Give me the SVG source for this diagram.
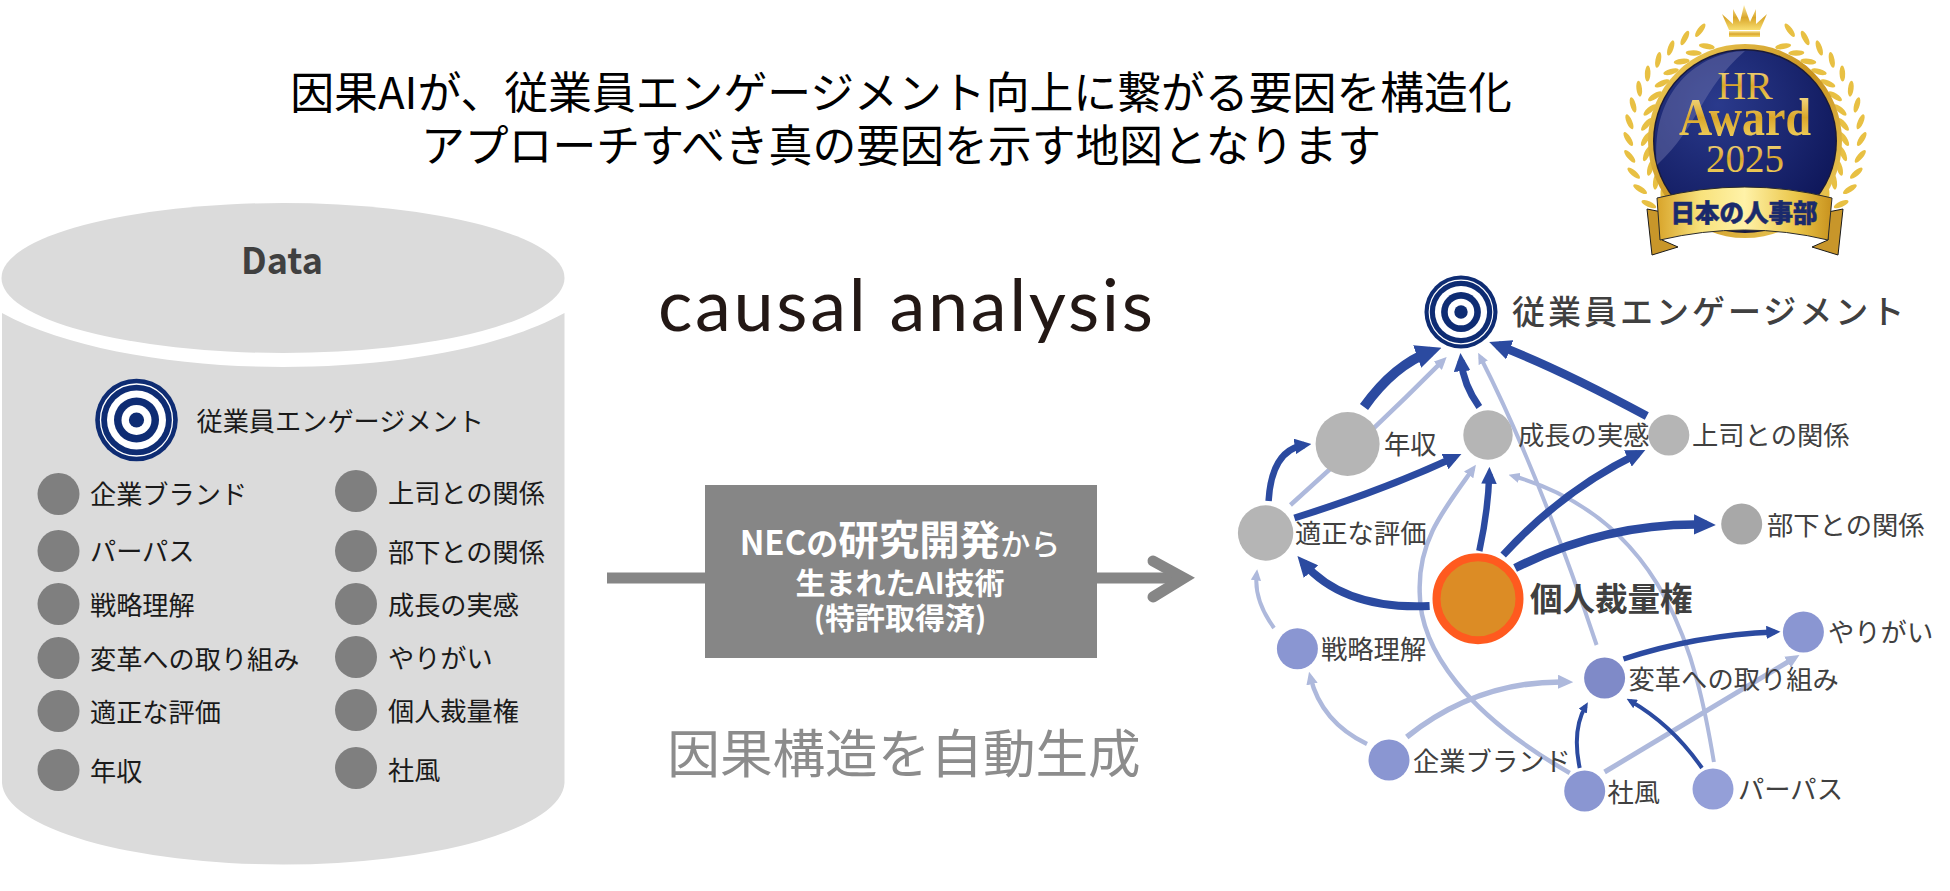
<svg xmlns="http://www.w3.org/2000/svg" width="1950" height="891" viewBox="0 0 1950 891">
<style>
text{font-family:"Noto Sans CJK JP","Noto Sans",sans-serif}
.d{fill:none;stroke:#2B4AA0;marker-end:url(#ad)}
.l{fill:none;stroke:#AEB9DC;marker-end:url(#al)}
.item{font-size:26.2px;fill:#1a1a1a}
.dot{fill:#7F7F7F}
.lab{font-size:26.3px;fill:#404040}
.g{fill:#B5B5B5}
.p{fill:#8A96D2}
.gold{fill:url(#gold)}
.bt{font-family:"Liberation Serif",serif;fill:url(#gold);text-anchor:middle}
.w{fill:#fff;font-weight:700;text-anchor:middle}
</style>
<defs>
<marker id="ad" viewBox="0 0 26 24" markerWidth="2.6" markerHeight="2.4" refX="15" refY="12" orient="auto"><path d="M0,0L26,12L0,24Z" fill="#2B4AA0"/></marker>
<marker id="al" viewBox="0 0 26 24" markerWidth="2.8" markerHeight="2.6" refX="15" refY="12" orient="auto"><path d="M0,0L26,12L0,24Z" fill="#AEB9DC"/></marker>
<linearGradient id="gold" x1="0" y1="0" x2="0" y2="1"><stop offset="0" stop-color="#FBE9A0"/><stop offset=".5" stop-color="#D9A62A"/><stop offset="1" stop-color="#F8DE70"/></linearGradient>
<linearGradient id="ring" x1="0" y1="0" x2="1" y2="1"><stop offset="0" stop-color="#F5D560"/><stop offset=".5" stop-color="#C8921E"/><stop offset="1" stop-color="#F3D665"/></linearGradient>
<radialGradient id="navy" cx=".35" cy=".3" r=".8"><stop offset="0" stop-color="#2A3A8C"/><stop offset="1" stop-color="#0D1557"/></radialGradient>
<linearGradient id="band" x1="0" y1="0" x2="1" y2="0"><stop offset="0" stop-color="#D8A42A"/><stop offset=".25" stop-color="#F8E27C"/><stop offset=".5" stop-color="#FFF2A8"/><stop offset=".8" stop-color="#EAC548"/><stop offset="1" stop-color="#C8921E"/></linearGradient>
<g id="target"><circle r="41.3" fill="#0E2C73"/><circle r="36" fill="none" stroke="#fff" stroke-width="1.3"/><circle r="29.5" fill="#fff"/><circle r="22.5" fill="#0E2C73"/><circle r="15" fill="#fff"/><circle r="7.6" fill="#0E2C73"/></g>
<g id="pair" fill="#E8C043"><ellipse cx="1745" cy="25" rx="8" ry="2.8" transform="rotate(-32 1738 25)"/><ellipse cx="1745" cy="35" rx="8" ry="2.8" transform="rotate(32 1738 35)"/></g>
<g id="laurel"><use href="#pair" transform="rotate(-22 1745 138)"/><use href="#pair" transform="rotate(-30.5 1745 138)"/><use href="#pair" transform="rotate(-39 1745 138)"/><use href="#pair" transform="rotate(-47.5 1745 138)"/><use href="#pair" transform="rotate(-56 1745 138)"/><use href="#pair" transform="rotate(-64.5 1745 138)"/><use href="#pair" transform="rotate(-73 1745 138)"/><use href="#pair" transform="rotate(-81.5 1745 138)"/><use href="#pair" transform="rotate(-90 1745 138)"/><use href="#pair" transform="rotate(-98.5 1745 138)"/><use href="#pair" transform="rotate(-107 1745 138)"/><use href="#pair" transform="rotate(-115.5 1745 138)"/><use href="#pair" transform="rotate(-124 1745 138)"/></g>
</defs>
<rect width="1950" height="891" fill="#fff"/>

<g id="title" font-size="43.85" fill="#000" text-anchor="middle">
<text x="901" y="109">因果AIが、従業員エンゲージメント向上に繋がる要因を構造化</text>
<text x="901" y="162">アプローチすべき真の要因を示す地図となります</text>
</g>

<g id="data-cylinder">
<ellipse cx="283" cy="278" rx="281.5" ry="75" fill="#DBDBDB"/>
<path d="M2,313C70,350 180,367 283,367C388,367 497,350 564.5,313L564.5,783A281.3,83 0 0 1 2,783Z" fill="#DBDBDB"/>
<text x="282" y="274" font-size="36" font-weight="700" fill="#404040" text-anchor="middle">Data</text>
</g>
<g id="data-engagement"><use href="#target" x="136.5" y="420"/><text x="196.5" y="431" class="item">従業員エンゲージメント</text></g>
<g id="data-items">
<circle class="dot" cx="58.5" cy="494" r="21"/><text class="item" x="90" y="504">企業ブランド</text>
<circle class="dot" cx="58.5" cy="551" r="21"/><text class="item" x="90" y="561">パーパス</text>
<circle class="dot" cx="58.5" cy="604" r="21"/><text class="item" x="90" y="615">戦略理解</text>
<circle class="dot" cx="58.5" cy="658" r="21"/><text class="item" x="90" y="669">変革への取り組み</text>
<circle class="dot" cx="58.5" cy="711" r="21"/><text class="item" x="90" y="722">適正な評価</text>
<circle class="dot" cx="58.5" cy="770" r="21"/><text class="item" x="90" y="781">年収</text>
<circle class="dot" cx="356" cy="491" r="21"/><text class="item" x="388" y="503">上司との関係</text>
<circle class="dot" cx="356" cy="551" r="21"/><text class="item" x="388" y="562">部下との関係</text>
<circle class="dot" cx="356" cy="604" r="21"/><text class="item" x="388" y="615">成長の実感</text>
<circle class="dot" cx="356" cy="657" r="21"/><text class="item" x="388" y="668">やりがい</text>
<circle class="dot" cx="356" cy="710" r="21"/><text class="item" x="388" y="721">個人裁量権</text>
<circle class="dot" cx="356" cy="768" r="21"/><text class="item" x="388" y="780">社風</text>
</g>

<text id="causal" x="658" y="331" font-size="72" fill="#231815" textLength="495" lengthAdjust="spacing" style="font-family:Lato,sans-serif">causal analysis</text>

<g id="tech-flow">
<line x1="607" y1="578" x2="1180" y2="578" stroke="#868686" stroke-width="11"/>
<path d="M1153,561L1184,578L1153,597" fill="none" stroke="#868686" stroke-width="11" stroke-linecap="round" stroke-linejoin="miter"/>
<rect x="705" y="485" width="392" height="173" fill="#868686"/>
<text x="900" y="555" class="w" font-size="33">NEC<tspan font-size="32">の</tspan><tspan font-size="40.5">研究開発</tspan><tspan font-size="30" font-weight="500">から</tspan></text>
<text x="900" y="594" class="w" font-size="30">生まれたAI技術</text>
<text x="900" y="629" class="w" font-size="30">(特許取得済)</text>
</g>

<text id="auto" x="904" y="773" font-size="52.6" fill="#8C8C8C" text-anchor="middle">因果構造を自動生成</text>

<g id="connectors" transform="translate(1200 0) scale(.994 1) translate(-1200 0)">
<path class="l" stroke-width="4.5" d="M1291,505Q1370,435 1444.4,360.7"/>
<path class="l" stroke-width="4" d="M1599,645Q1540,470 1482,357"/>
<path class="l" stroke-width="4.5" d="M1572,773C1470,715 1420,650 1421,590C1420,540 1445,510 1474.5,469"/>
<path class="l" stroke-width="4" d="M1717,762C1700,660 1670,520 1515,476"/>
<path class="l" stroke-width="4" d="M1274.5,628Q1254,600 1257,574"/>
<path class="l" stroke-width="4.5" d="M1368,744Q1322,722 1311,677"/>
<path class="l" stroke-width="5.5" d="M1408,737Q1480,680 1569,682"/>
<path class="l" stroke-width="5" d="M1607,772Q1720,705 1798,658"/>
<path class="d" stroke-width="10" d="M1365,407Q1395,365 1432.6,351.4"/>
<path class="d" stroke-width="7" d="M1481,407Q1465,385 1462.7,360.7"/>
<path class="d" stroke-width="8.5" d="M1649.5,416Q1560,368 1499.7,345.3"/>
<path class="d" stroke-width="6.5" d="M1269,501Q1272,450 1305,445"/>
<path class="d" stroke-width="7" d="M1295,518Q1385,490 1456,457.2"/>
<path class="d" stroke-width="6.5" d="M1481,551Q1490,510 1491,474"/>
<path class="d" stroke-width="7.5" d="M1505,555Q1565,490 1640.6,453.6"/>
<path class="d" stroke-width="8.5" d="M1517,568Q1610,522 1709.6,524.7"/>
<path class="d" stroke-width="8" d="M1431,606Q1345,610 1303.8,562.6"/>
<path class="d" stroke-width="4" d="M1582,768Q1574,730 1588,706"/>
<path class="d" stroke-width="4" d="M1705,768Q1675,725 1633,701"/>
<path class="d" stroke-width="5.5" d="M1626,659Q1700,635 1778,632"/>
</g>

<g id="n-engagement"><use href="#target" transform="translate(1461 312) scale(.884)"/><text x="1512" y="324" font-size="33" fill="#404040" letter-spacing="3" font-weight="500">従業員エンゲージメント</text></g>
<g id="n-nenshu"><circle class="g" cx="1347.6" cy="444" r="32"/><text class="lab" x="1384" y="454" font-size="27">年収</text></g>
<g id="n-seicho"><circle class="g" cx="1488" cy="435" r="24.7"/><text class="lab" x="1518" y="445">成長の実感</text></g>
<g id="n-joshi"><circle class="g" cx="1668.8" cy="435" r="20.5"/><text class="lab" x="1692" y="445">上司との関係</text></g>
<g id="n-tekisei"><circle class="g" cx="1265.6" cy="533" r="27.7"/><text class="lab" x="1295" y="543">適正な評価</text></g>
<g id="n-buka"><circle cx="1741.7" cy="524" r="20.5" fill="#A8A8A8"/><text class="lab" x="1767" y="535">部下との関係</text></g>
<g id="n-kojin"><circle cx="1478" cy="598.7" r="41.5" fill="#DC8C25" stroke="#FF5A1F" stroke-width="8"/><text x="1530" y="611" font-size="32.5" font-weight="700" fill="#404040">個人裁量権</text></g>
<g id="n-senryaku"><circle class="p" cx="1297.4" cy="648.7" r="20.5"/><text class="lab" x="1321" y="659">戦略理解</text></g>
<g id="n-henkaku"><circle cx="1604.6" cy="678" r="20.5" fill="#7F8AC8"/><text class="lab" x="1628.5" y="689">変革への取り組み</text></g>
<g id="n-yarigai"><circle class="p" cx="1803.4" cy="632" r="20.5"/><text class="lab" x="1828" y="642">やりがい</text></g>
<g id="n-kigyo"><circle class="p" cx="1389" cy="760" r="20.5"/><text class="lab" x="1413" y="771">企業ブランド</text></g>
<g id="n-shafu"><circle class="p" cx="1584.7" cy="791" r="20.5"/><text class="lab" x="1607.5" y="802">社風</text></g>
<g id="n-purpose"><circle cx="1713" cy="789" r="20.5" fill="#949FD8"/><text class="lab" x="1738" y="799">パーパス</text></g>

<g id="badge">
<use href="#laurel"/>
<use href="#laurel" transform="translate(3490 0) scale(-1 1)"/>
<path class="gold" d="M1729,30L1722,14L1733,24L1733,9L1740,22L1744,5L1750,22L1756,9L1756,24L1767,14L1760,30Z"/>
<rect class="gold" x="1729" y="31" width="31" height="6"/>
<circle cx="1745" cy="141" r="97" fill="url(#ring)"/>
<circle cx="1745" cy="141" r="92" fill="#1A1A3A"/>
<circle cx="1745" cy="141" r="90.5" fill="url(#navy)"/>
<path d="M1657,165C1650,90 1700,52 1745,51C1700,90 1700,125 1657,165Z" fill="#7378B0" fill-opacity=".45"/>
<text class="bt" x="1745" y="99" font-size="40">HR</text>
<text class="bt" x="1745" y="135" font-size="52" font-weight="700" textLength="132" lengthAdjust="spacingAndGlyphs">Award</text>
<text class="bt" x="1745" y="172" font-size="39">2025</text>
<path d="M1647,209L1662,212L1662,240L1678,247L1652,255Z" fill="#C8962A" stroke="#1a1a1a" stroke-width="1"/>
<path d="M1843,209L1828,212L1828,240L1812,247L1838,255Z" fill="#C8962A" stroke="#1a1a1a" stroke-width="1"/>
<path d="M1657,198Q1745,176 1832,198L1828,240Q1745,220 1660,240Z" fill="url(#band)" stroke="#2a2a2a" stroke-width="1"/>
<text x="1744" y="222" font-size="24.5" font-weight="900" fill="#1A2A6C" text-anchor="middle" stroke="#1A2A6C" stroke-width=".5">日本の人事部</text>
</g>
</svg>
